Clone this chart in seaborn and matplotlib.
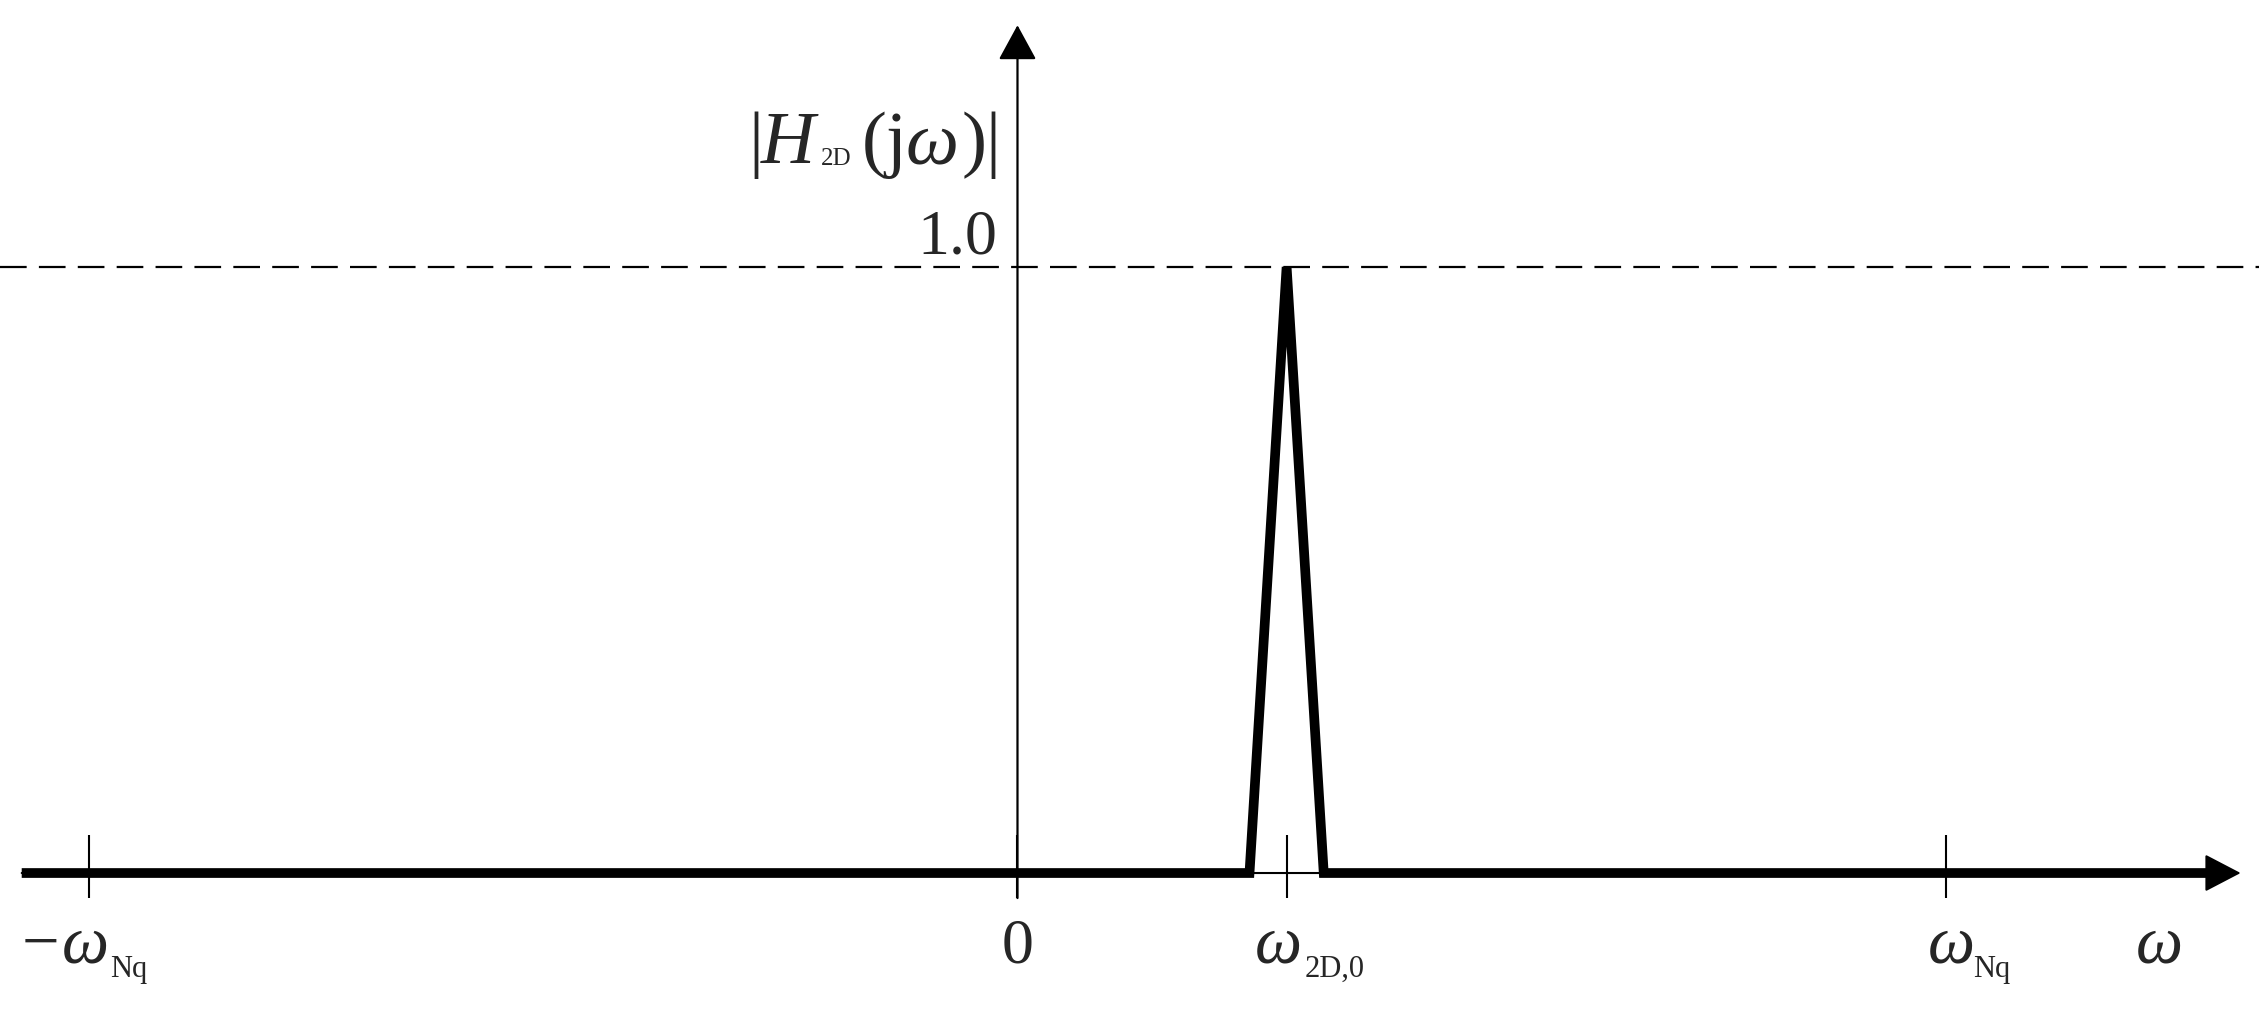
import numpy as np
import matplotlib
matplotlib.use('Agg')
import matplotlib.pyplot as plt
import seaborn as sns

sns.set_style('white')
plt.rcParams['font.family'] = ['Liberation Serif', 'DejaVu Serif']

# magnitude response |H_2D(jw)|: flat zero with a narrow triangle at w_2D,0
omega_pts = [-1.073, 0.25, 0.29, 0.33, 1.285]
mag_pts = [0.0, 0.0, 1.0, 0.0, 0.0]
tick_pos = [-1.0, 0.0, 0.29, 1.0]
ref_level = 1.0
ref_label = '1.0'

fig = plt.figure(figsize=(22.59, 10.09), dpi=100)
ax = fig.add_axes([0, 0, 1, 1])
ax.set_xlim(-1.0964, 1.3378)
ax.set_ylim(-0.2244, 1.4406)
ax.axis('off')

# dashed reference line
ax.axhline(ref_level, color='black', lw=1.6, dashes=(12, 5.5))

# thin axes with arrow heads
ax.annotate('', xy=(1.318, 0), xytext=(-1.073, 0),
            arrowprops=dict(arrowstyle='-|>,head_length=2.3,head_width=1.2',
                            mutation_scale=10, color='black', lw=1.5,
                            shrinkA=0, shrinkB=0))
ax.annotate('', xy=(0, 1.399), xytext=(0, -0.0413),
            arrowprops=dict(arrowstyle='-|>,head_length=2.2,head_width=1.2',
                            mutation_scale=10, color='black', lw=1.6,
                            shrinkA=0, shrinkB=0))

# ticks
ax.vlines(tick_pos, -0.0413, 0.0627, color='black', lw=1.5)

# thick response curve
sns.lineplot(x=omega_pts, y=mag_pts, sort=False, estimator=None, color='black',
             linewidth=7, solid_joinstyle='miter', solid_capstyle='butt', ax=ax)

big = 48
small = 22
yb = -0.1477
ys = -0.1716
ax.text(-1.0727, yb, '\u2212', fontsize=big, ha='left', va='baseline')
ax.text(-1.030, yb, '\u03c9', fontsize=big, style='italic', ha='left', va='baseline')
ax.text(-0.978, ys, 'Nq', fontsize=small, ha='left', va='baseline')
ax.text(0.0, yb, '0', fontsize=46, ha='center', va='baseline')
ax.text(0.256, yb, '\u03c9', fontsize=big, style='italic', ha='left', va='baseline')
ax.text(0.309, ys, '2D,0', fontsize=small, ha='left', va='baseline')
ax.text(0.981, yb, '\u03c9', fontsize=big, style='italic', ha='left', va='baseline')
ax.text(1.030, ys, 'Nq', fontsize=small, ha='left', va='baseline')
ax.text(1.205, yb, '\u03c9', fontsize=big, style='italic', ha='left', va='baseline')

ax.text(-0.022, 1.023, ref_label, fontsize=46, ha='right', va='baseline')

# |H_2D(jw)| label
yl = 1.1716
ax.text(-0.290, yl, '|', fontsize=54, ha='left', va='baseline')
ax.text(-0.277, yl, 'H', fontsize=54, style='italic', ha='left', va='baseline')
ax.text(-0.2115, yl - 0.004, '2D', fontsize=18, ha='left', va='baseline')
ax.text(-0.168, yl, '(j', fontsize=54, ha='left', va='baseline')
ax.text(-0.121, yl, '\u03c9', fontsize=54, style='italic', ha='left', va='baseline')
ax.text(-0.060, yl, ')|', fontsize=54, ha='left', va='baseline')

fig.savefig('out.png', dpi=100)
